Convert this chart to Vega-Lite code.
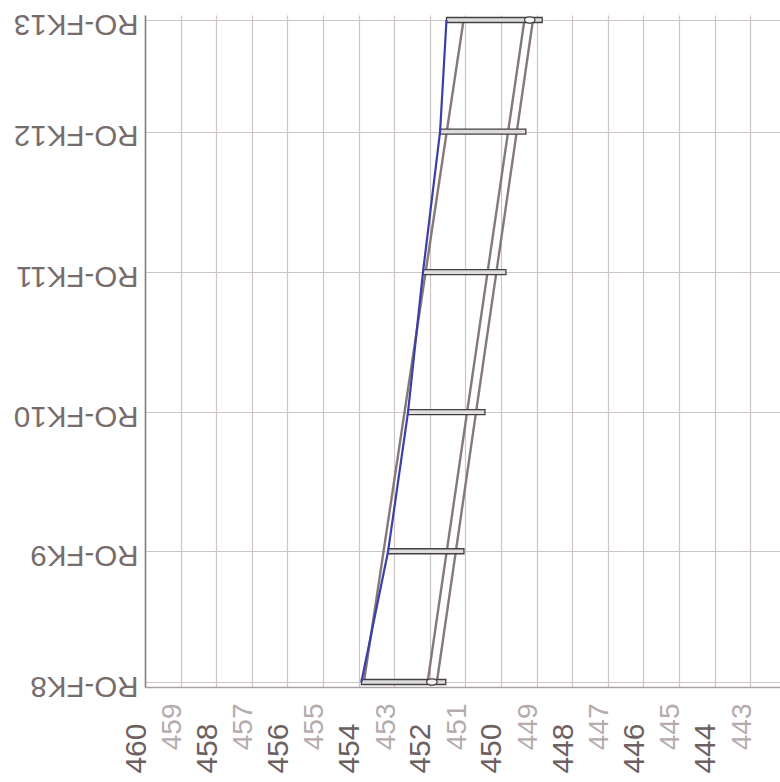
{
  "$schema": "https://vega.github.io/schema/vega-lite/v6.json",
  "width": 635,
  "height": 672,
  "autosize": "none",
  "padding": {"left": 145, "top": 15, "right": 0, "bottom": 95},
  "background": "white",
  "config": {"view": {"stroke": null}, "font": "Liberation Sans"},
  "datasets": {
    "bars": [
      {"station": "RO-FK8", "dist": 0, "left": 453.92, "right": 451.55},
      {"station": "RO-FK9", "dist": 1327, "left": 453.17, "right": 451.04},
      {"station": "RO-FK10", "dist": 2740, "left": 452.61, "right": 450.45},
      {"station": "RO-FK11", "dist": 4160, "left": 452.19, "right": 449.86},
      {"station": "RO-FK12", "dist": 5587, "left": 451.71, "right": 449.30},
      {"station": "RO-FK13", "dist": 6720, "left": 451.53, "right": 448.84}
    ],
    "lines": [
      {"series": "A", "dist": 0, "level": 453.85},
      {"series": "A", "dist": 6720, "level": 451.05},
      {"series": "B", "dist": 0, "level": 452.06},
      {"series": "B", "dist": 6720, "level": 449.34},
      {"series": "C", "dist": 0, "level": 451.80},
      {"series": "C", "dist": 6720, "level": 449.10}
    ],
    "markers": [
      {"dist": 0, "level": 451.94},
      {"dist": 6720, "level": 449.19}
    ]
  },
  "resolve": {"axis": {"x": "independent"}},
  "layer": [
    {
      "data": {"name": "lines"},
      "mark": {"type": "line", "color": "#857878", "strokeWidth": 2.4},
      "encoding": {
        "x": {
          "field": "level", "type": "quantitative", "title": null,
          "scale": {"domain": [442.16, 460], "reverse": true, "nice": false, "zero": false},
          "axis": {
            "orient": "bottom",
            "values": [443, 445, 447, 449, 451, 453, 455, 457, 459],
            "grid": true, "gridColor": "#cdc5c5", "gridWidth": 1.2,
            "ticks": false, "domain": true, "domainColor": "#aaa2a2", "domainWidth": 1.6,
            "labelAngle": -90, "labelAlign": "right", "labelBaseline": "alphabetic",
            "labelFont": "Liberation Sans", "labelFontSize": 28, "labelColor": "#b5abab",
            "labelPadding": 16,
            "labelFlush": false, "labelOverlap": false, "labelBound": false
          }
        },
        "y": {
          "field": "dist", "type": "quantitative", "title": null,
          "scale": {"domain": [0, 6720], "nice": false, "zero": false},
          "axis": {
            "values": [0, 1327, 2740, 4160, 5587, 6720],
            "labelExpr": "datum.value == 0 ? 'RO-FK8' : datum.value == 1327 ? 'RO-FK9' : datum.value == 2740 ? 'RO-FK10' : datum.value == 4160 ? 'RO-FK11' : datum.value == 5587 ? 'RO-FK12' : 'RO-FK13'",
            "grid": true, "gridColor": "#cdc5c5", "gridWidth": 1.2,
            "ticks": false, "domain": true, "domainColor": "#8c8282", "domainWidth": 1.6,
            "labelAngle": 180, "labelFont": "Liberation Sans", "labelFontSize": 29.5,
            "labelColor": "#776c6c", "labelPadding": 7, "labelOffset": 3,
            "labelFlush": false, "labelOverlap": false, "labelBound": false
          }
        },
        "detail": {"field": "series", "type": "nominal"},
        "order": {"field": "dist", "type": "quantitative"}
      }
    },
    {
      "data": {"name": "bars"},
      "mark": {"type": "bar", "size": 5, "fill": "#dcdcdc", "stroke": "#454040", "strokeWidth": 1.3},
      "encoding": {
        "x": {
          "field": "left", "type": "quantitative", "title": null,
          "axis": {
            "orient": "bottom",
            "values": [444, 446, 448, 450, 452, 454, 456, 458, 460],
            "grid": true, "gridColor": "#cdc5c5", "gridWidth": 1.2,
            "ticks": false, "domain": false,
            "labelAngle": -90, "labelAlign": "right", "labelBaseline": "alphabetic",
            "labelFont": "Liberation Sans", "labelFontSize": 30, "labelColor": "#6c6060",
            "labelPadding": 36,
            "labelFlush": false, "labelOverlap": false, "labelBound": false
          }
        },
        "x2": {"field": "right"},
        "y": {"field": "dist", "type": "quantitative", "title": null}
      }
    },
    {
      "data": {"name": "bars"},
      "mark": {"type": "line", "color": "#3b3fa8", "strokeWidth": 2.2},
      "encoding": {
        "x": {"field": "left", "type": "quantitative", "title": null, "axis": null},
        "y": {"field": "dist", "type": "quantitative", "title": null},
        "order": {"field": "dist", "type": "quantitative"}
      }
    },
    {
      "data": {"name": "markers"},
      "mark": {"type": "point", "shape": "M -1 0 A 1 0.6 0 1 0 1 0 A 1 0.6 0 1 0 -1 0 Z", "size": 110, "filled": true, "fill": "#f4f4f4", "stroke": "#454040", "strokeWidth": 1.3, "opacity": 1},
      "encoding": {
        "x": {"field": "level", "type": "quantitative", "title": null, "axis": null},
        "y": {"field": "dist", "type": "quantitative", "title": null}
      }
    }
  ]
}
